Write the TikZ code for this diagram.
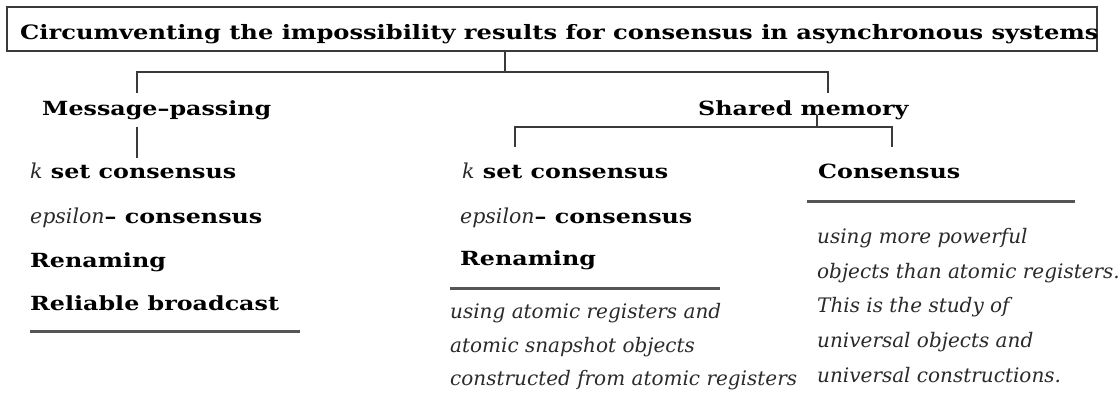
\documentclass[tikz,border=0pt]{standalone}
\usepackage{fontspec}
\setmainfont{DejaVu Serif}[BoldFeatures={FakeStretch=1.22}]
\definecolor{linegray}{HTML}{3A3A3A}
\definecolor{rulegray}{HTML}{555555}
\definecolor{itgray}{HTML}{2A2A2A}
\newcommand{\litit}[1]{{\fontsize{20.5}{20.5}\selectfont\mdseries\itshape\color{itgray}#1}}
\begin{document}
\begin{tikzpicture}[x=1pt,y=-1pt,
  lbl/.style={anchor=base west,inner sep=0pt,font=\fontsize{19.5}{19.5}\selectfont\bfseries},
  itl/.style={anchor=base west,inner sep=0pt,font=\fontsize{20}{20}\selectfont\itshape,text=itgray},
  conn/.style={draw=linegray,line width=2pt},
  rulel/.style={draw=rulegray,line width=3pt},
  boxst/.style={draw=linegray,line width=2pt,rectangle,inner sep=0pt,minimum width=1090pt,minimum height=44pt}]
\useasboundingbox (0,0) rectangle (1120,392);
% title box
\node[boxst] (tbox) at (552,29) {};
\node[lbl,font=\fontsize{19.8}{19.8}\selectfont\bfseries] (title) at (20,39) {Circumventing the impossibility results for consensus in asynchronous systems};
% level 1
\node[lbl] (mp) at (42,115) {Message--passing};
\node[lbl] (sm) at (698,115) {Shared memory};
% message passing items
\node[lbl] (mp1) at (30,178) {\litit{k} set consensus};
\node[lbl] (mp2) at (30,223) {\litit{epsilon}-- consensus};
\node[lbl] (mp3) at (30,267) {Renaming};
\node[lbl] (mp4) at (30,310) {Reliable broadcast};
% shared memory, left
\node[lbl] (sa1) at (462,178) {\litit{k} set consensus};
\node[lbl] (sa2) at (460,223) {\litit{epsilon}-- consensus};
\node[lbl] (sa3) at (460,265) {Renaming};
\node[itl] (sa4) at (450,318) {using atomic registers and};
\node[itl] (sa5) at (450,352) {atomic snapshot objects};
\node[itl] (sa6) at (450,385) {constructed from atomic registers};
% shared memory, right
\node[lbl] (sb1) at (818,178) {Consensus};
\node[itl] (sb2) at (817,243) {using more powerful};
\node[itl] (sb3) at (817,278) {objects than atomic registers.};
\node[itl] (sb4) at (817,312) {This is the study of};
\node[itl] (sb5) at (817,347) {universal objects and};
\node[itl] (sb6) at (817,382) {universal constructions.};
% junctions
\coordinate (j0) at (tbox.south -| 505,0);
\coordinate (j1) at (505,72);
\coordinate (jl) at (137,72);
\coordinate (jr) at (828,72);
\coordinate (mpt) at (137,93);
\coordinate (smt) at (828,93);
\coordinate (mpb) at (137,127);
\coordinate (mpi) at (137,158);
\coordinate (smb) at (817,115);
\coordinate (j2) at (817,127);
\coordinate (j2l) at (515,127);
\coordinate (j2r) at (892,127);
\coordinate (sat) at (515,147);
\coordinate (sbt) at (892,147);
\draw[conn] (j0) -- (j1);
\draw[conn] (mpt) -- (jl) -- (jr) -- (smt);
\draw[conn] (mpb) -- (mpi);
\draw[conn] (smb) -- (j2);
\draw[conn] (sat) -- (j2l) -- (j2r) -- (sbt);
% rules
\coordinate (r1a) at (30,331); \coordinate (r1b) at (300,331);
\coordinate (r2a) at (450,288); \coordinate (r2b) at (720,288);
\coordinate (r3a) at (807,201); \coordinate (r3b) at (1075,201);
\draw[rulel] (r1a) -- (r1b);
\draw[rulel] (r2a) -- (r2b);
\draw[rulel] (r3a) -- (r3b);
\end{tikzpicture}
\end{document}
